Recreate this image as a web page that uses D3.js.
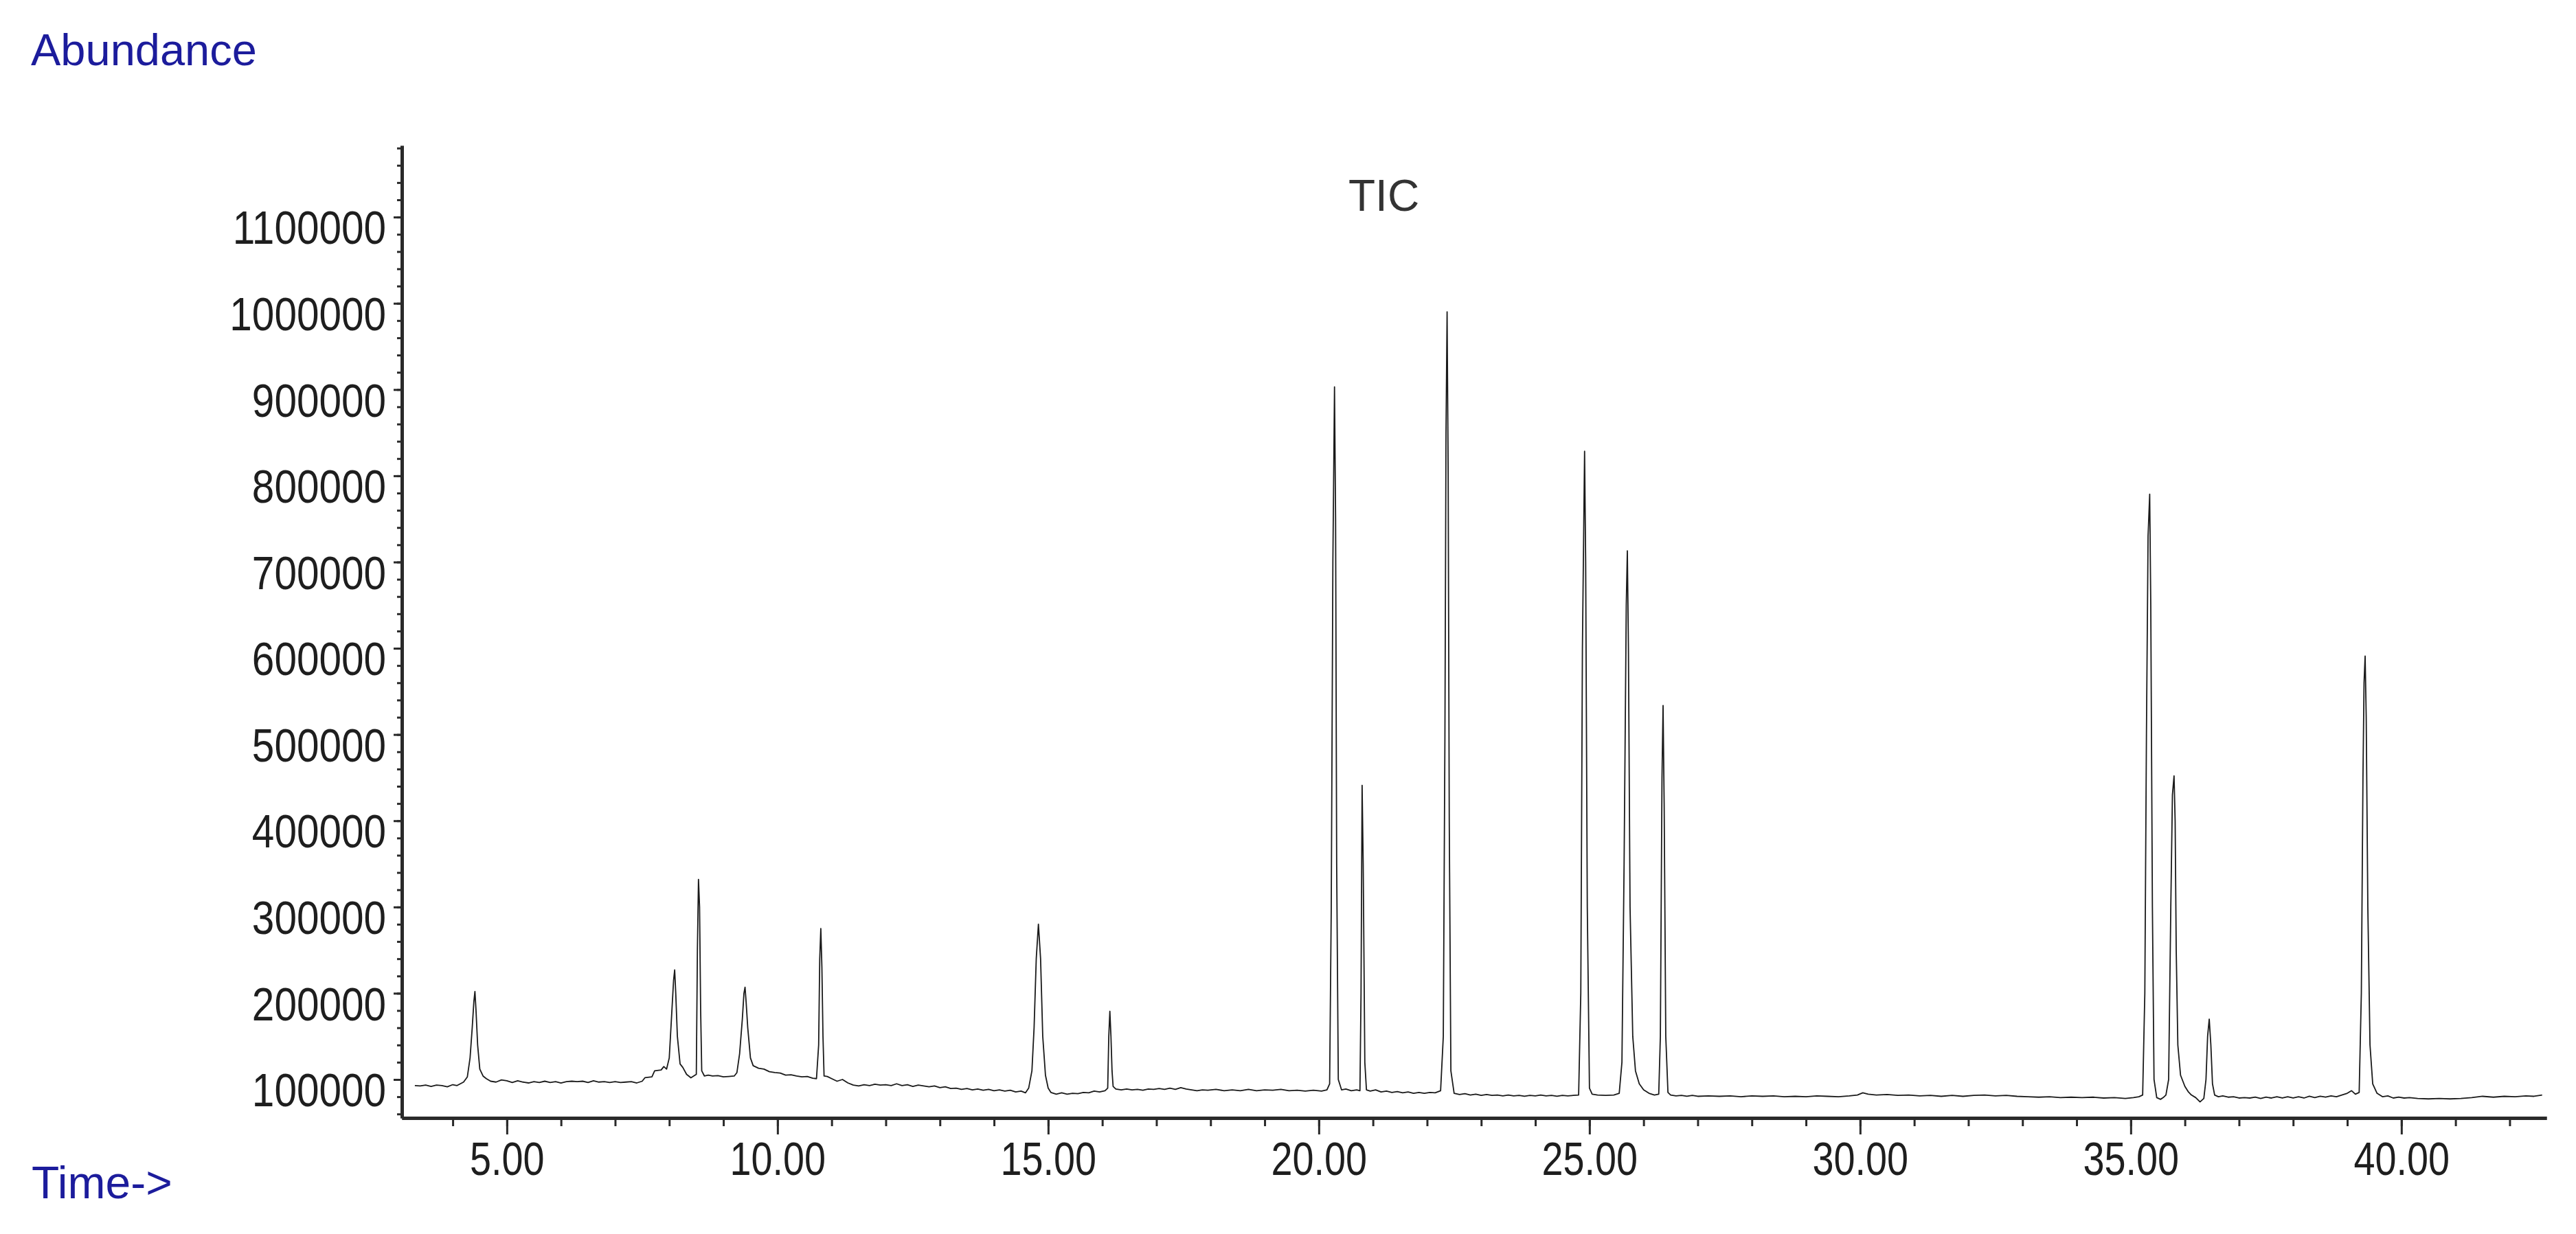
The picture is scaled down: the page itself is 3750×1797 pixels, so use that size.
<!DOCTYPE html>
<html>
<head>
  <meta charset="utf-8">
  <title>TIC chromatogram</title>
  <script src="https://cdn.jsdelivr.net/npm/d3@7/dist/d3.min.js"></script>
  <style>
    body { margin: 0; background: #fff; }
    .axis .tick text { font-family: "Liberation Sans", Arial, sans-serif; font-size: 68px; fill: #1e1e1e; }
    .axis path.domain { stroke: #2a2a2a; stroke-width: 5px; }
    .axis .tick line { stroke: #2a2a2a; stroke-width: 3px; }
  </style>
</head>
<body>
  <div id="chart"></div>
<script>
  // tick values
  const yMajorTicks = [100000, 200000, 300000, 400000, 500000, 600000, 700000, 800000, 900000, 1000000, 1100000];
  const xMajorTicks = [5, 10, 15, 20, 25, 30, 35, 40];

  // TIC trace, [time (min), abundance]
  const trace03to11 = [
    [3.3, 93000], [3.4, 92500], [3.5, 93500], [3.6, 92000], [3.7, 93500], [3.8, 93000], [3.9, 91500],
    [4.0, 94000], [4.08, 93000], [4.14, 95000], [4.2, 97000], [4.27, 103000],
    [4.32, 125000], [4.36, 160000], [4.39, 190000], [4.41, 202000], [4.43, 180000], [4.46, 140000],
    [4.5, 112000], [4.56, 104000], [4.62, 101000], [4.7, 98000], [4.8, 97000], [4.9, 99500],
    [5.0, 98500], [5.1, 96500], [5.2, 98500], [5.3, 97000], [5.4, 96000], [5.5, 97500], [5.6, 96500],
    [5.7, 98000], [5.8, 96500], [5.9, 97500], [6.0, 96000], [6.1, 97500], [6.2, 98000], [6.3, 97500],
    [6.4, 98000], [6.5, 96500], [6.6, 98500], [6.7, 97000], [6.8, 97500], [6.9, 96500], [7.0, 97500],
    [7.1, 96500], [7.2, 97000], [7.3, 97500], [7.4, 96000], [7.5, 98000], [7.55, 102000], [7.68, 103000],
    [7.73, 110000], [7.85, 111000], [7.9, 115000], [7.95, 112000], [8.0, 125000],
    [8.04, 170000], [8.08, 215000], [8.1, 227000], [8.12, 200000], [8.15, 150000], [8.2, 118000],
    [8.25, 114000], [8.32, 106000], [8.4, 102000], [8.45, 104000], [8.5, 106000],
    [8.52, 250000], [8.54, 332000], [8.56, 300000], [8.58, 180000], [8.6, 110000], [8.65, 104000],
    [8.72, 105000], [8.8, 104000], [8.9, 104500], [9.0, 103000], [9.1, 103500], [9.2, 104000], [9.25, 108000],
    [9.3, 130000], [9.35, 170000], [9.38, 200000], [9.4, 207000], [9.42, 190000], [9.45, 160000],
    [9.5, 125000], [9.55, 116000], [9.65, 113000], [9.75, 112000], [9.85, 109000], [9.95, 108000],
    [10.05, 107500], [10.15, 105000], [10.25, 105500], [10.35, 104000], [10.45, 103000], [10.55, 103500],
    [10.65, 101500], [10.72, 101000], [10.76, 140000], [10.78, 240000], [10.8, 275000], [10.82, 230000],
    [10.84, 150000], [10.86, 104000], [10.92, 103500], [11.0, 101000]
  ];
  const trace11to20 = [
    [11.1, 98000], [11.2, 100000], [11.3, 96000], [11.4, 93500], [11.5, 92500], [11.6, 94000],
    [11.7, 93000], [11.8, 94500], [11.9, 93500], [12.0, 94000], [12.1, 93000], [12.2, 95000], [12.3, 93000],
    [12.4, 94000], [12.5, 92000], [12.6, 93500], [12.7, 92500], [12.8, 91500], [12.9, 92500], [13.0, 90500],
    [13.1, 91500], [13.2, 89500], [13.3, 90000], [13.4, 88500], [13.5, 89500], [13.6, 88000], [13.7, 89000],
    [13.8, 87500], [13.9, 88500], [14.0, 87000], [14.1, 88000], [14.2, 86500], [14.3, 87500], [14.4, 85500],
    [14.5, 86500], [14.58, 84500], [14.64, 90000], [14.7, 110000], [14.74, 160000], [14.78, 240000],
    [14.82, 280000], [14.86, 240000], [14.9, 150000], [14.95, 105000], [15.0, 90000], [15.05, 85000],
    [15.15, 83000], [15.25, 84500], [15.35, 83000], [15.45, 84000], [15.55, 83500], [15.65, 85000],
    [15.75, 84500], [15.85, 86500], [15.95, 85500], [16.05, 87000], [16.1, 90000], [16.12, 150000],
    [16.14, 179000], [16.16, 150000], [16.18, 110000], [16.2, 92000], [16.25, 89000], [16.35, 88000],
    [16.45, 89000], [16.55, 88000], [16.65, 88500], [16.75, 87500], [16.85, 89000], [16.95, 88500],
    [17.05, 89500], [17.15, 88500], [17.25, 90000], [17.35, 88500], [17.45, 90500], [17.55, 89000],
    [17.65, 88000], [17.75, 87000], [17.85, 88000], [17.95, 87500], [18.1, 88500], [18.25, 87000],
    [18.4, 88000], [18.55, 87000], [18.7, 88500], [18.85, 87000], [19.0, 88000], [19.15, 87500],
    [19.3, 88500], [19.45, 87000], [19.6, 87500], [19.75, 86500], [19.9, 87500], [20.05, 86500], [20.15, 88000]
  ];
  const trace20to27 = [
    [20.2, 95000], [20.23, 300000], [20.26, 700000], [20.29, 903000], [20.31, 750000], [20.33, 350000],
    [20.36, 100000], [20.42, 88000], [20.5, 89000], [20.6, 87000], [20.7, 88000], [20.76, 87000],
    [20.78, 200000], [20.8, 441000], [20.82, 350000], [20.85, 120000], [20.88, 88000], [20.95, 86500],
    [21.05, 88000], [21.15, 85500], [21.25, 86500], [21.35, 85000], [21.45, 86000], [21.55, 84500],
    [21.65, 85500], [21.75, 84000], [21.85, 85000], [21.95, 84000], [22.05, 85000], [22.15, 84500],
    [22.25, 87000], [22.3, 150000], [22.33, 500000], [22.35, 850000], [22.37, 990000], [22.39, 800000],
    [22.41, 400000], [22.44, 110000], [22.5, 84000], [22.6, 82500], [22.7, 83500], [22.8, 82000],
    [22.9, 83000], [23.0, 81500], [23.1, 82500], [23.2, 81500], [23.3, 82000], [23.4, 81000], [23.5, 82000],
    [23.6, 81000], [23.7, 81500], [23.8, 80500], [23.9, 81500], [24.0, 81000], [24.1, 82000], [24.2, 81000],
    [24.3, 81500], [24.4, 80500], [24.5, 81500], [24.6, 81000], [24.7, 81500], [24.8, 82000],
    [24.84, 200000], [24.87, 600000], [24.91, 828500], [24.93, 700000], [24.96, 300000], [25.0, 90000],
    [25.05, 83000], [25.15, 82000], [25.3, 81500], [25.45, 82000], [25.55, 84000], [25.6, 120000],
    [25.64, 350000], [25.68, 650000], [25.7, 713000], [25.72, 600000], [25.75, 300000], [25.8, 150000],
    [25.85, 110000], [25.92, 95000], [26.0, 88000], [26.1, 84000], [26.2, 82000], [26.28, 83000],
    [26.31, 150000], [26.34, 450000], [26.36, 533700], [26.38, 420000], [26.41, 150000], [26.45, 85000],
    [26.5, 82000], [26.6, 81000], [26.7, 81500], [26.8, 80500], [26.9, 81500], [27.0, 80500]
  ];
  const trace27to43 = [
    [27.2, 81000], [27.4, 80500], [27.6, 81000], [27.8, 80000], [28.0, 81000], [28.2, 80500], [28.4, 81000],
    [28.6, 80000], [28.8, 80500], [29.0, 80000], [29.2, 81000], [29.4, 80500], [29.6, 80000], [29.8, 81000],
    [29.95, 82000], [30.05, 84500], [30.15, 83000], [30.3, 82000], [30.5, 82500], [30.7, 81500], [30.9, 82000],
    [31.1, 81000], [31.3, 81500], [31.5, 80500], [31.7, 81500], [31.9, 80500], [32.1, 81500], [32.3, 82000],
    [32.5, 81000], [32.7, 81500], [32.9, 80500], [33.1, 80000], [33.3, 79500], [33.5, 80000], [33.7, 79000],
    [33.9, 79500], [34.1, 79000], [34.3, 79500], [34.5, 78500], [34.7, 79000], [34.9, 78000], [35.05, 79000],
    [35.15, 80000], [35.22, 82000], [35.26, 200000], [35.29, 500000], [35.32, 730000], [35.35, 778600],
    [35.37, 650000], [35.4, 300000], [35.43, 100000], [35.48, 79000], [35.55, 77000], [35.6, 79000],
    [35.65, 82000], [35.7, 100000], [35.74, 300000], [35.77, 430000], [35.8, 452000], [35.82, 400000],
    [35.84, 250000], [35.87, 140000], [35.92, 105000], [36.0, 92000], [36.06, 86000], [36.12, 82000],
    [36.2, 79000], [36.28, 74000], [36.35, 78000], [36.39, 100000], [36.42, 150000], [36.45, 170000],
    [36.48, 140000], [36.51, 95000], [36.55, 82000], [36.62, 80000], [36.7, 81000], [36.8, 79500],
    [36.9, 80000], [37.0, 78500], [37.1, 79000], [37.2, 78500], [37.3, 79500], [37.4, 78000], [37.5, 79500],
    [37.6, 78500], [37.7, 80000], [37.8, 78500], [37.9, 80000], [38.0, 78500], [38.1, 80000], [38.2, 78500],
    [38.3, 80500], [38.4, 79000], [38.5, 80500], [38.6, 79500], [38.7, 81000], [38.8, 80000], [38.9, 82000],
    [39.0, 84000], [39.08, 87000], [39.15, 83000], [39.22, 85000], [39.26, 200000], [39.29, 450000],
    [39.31, 560000], [39.33, 591000], [39.35, 520000], [39.38, 300000], [39.42, 140000], [39.47, 95000],
    [39.55, 84000], [39.65, 80000], [39.75, 81000], [39.85, 78500], [39.95, 79500], [40.05, 78500],
    [40.15, 79000], [40.3, 78000], [40.5, 77500], [40.7, 78000], [40.9, 77500], [41.1, 78000], [41.3, 79000],
    [41.5, 80500], [41.7, 79500], [41.9, 80500], [42.1, 80000], [42.3, 81000], [42.45, 80500], [42.6, 82000]
  ];
  const trace = trace03to11.concat(trace11to20, trace20to27, trace27to43);

  // set the dimensions and margins of the graph
  const margin = {top: 212, right: 43, bottom: 169, left: 585},
        width = 3750 - margin.left - margin.right,
        height = 1797 - margin.top - margin.bottom;

  const root = d3.select("#chart")
    .append("svg")
      .attr("width", 3750)
      .attr("height", 1797);

  let svg = root.append("g")
      .attr("transform", "translate(" + margin.left + "," + margin.top + ")");

  // scales
  let x = d3.scaleLinear()
    .domain([3.06, 42.68])
    .range([0, width]);
  let y = d3.scaleLinear()
    .domain([55400, 1182900])
    .range([height, 0]);

  // squeeze tick labels horizontally, the original font is a narrow one
  function narrow(sel, k) {
    sel.each(function () {
      const w = this.getComputedTextLength();
      d3.select(this)
        .attr("textLength", w * k)
        .attr("lengthAdjust", "spacingAndGlyphs");
    });
  }

  // minor ticks first, then major ticks with labels on top
  const xMinor = d3.range(4, 43, 1);
  const yMinor = d3.range(60000, 1182900, 20000);

  svg.append("g")
    .attr("class", "axis")
    .attr("transform", "translate(0," + height + ")")
    .call(d3.axisBottom(x).tickValues(xMinor).tickSize(12).tickSizeOuter(0).tickFormat(""));
  svg.append("g")
    .attr("class", "axis")
    .call(d3.axisLeft(y).tickValues(yMinor).tickSize(7).tickSizeOuter(0).tickFormat(""));

  svg.append("g")
    .attr("class", "axis")
    .attr("transform", "translate(0," + height + ")")
    .call(d3.axisBottom(x).tickValues(xMajorTicks).tickSize(24).tickPadding(11)
      .tickSizeOuter(0).tickFormat(d3.format(".2f")))
    .selectAll("text")
      .call(narrow, 0.82);
  svg.append("g")
    .attr("class", "axis")
    .call(d3.axisLeft(y).tickValues(yMajorTicks).tickSize(12).tickPadding(11)
      .tickSizeOuter(0).tickFormat(d3.format("d")))
    .selectAll("text")
      .attr("dy", "0.57em")
      .call(narrow, 0.86);

  // the trace
  svg.append("clipPath")
      .attr("id", "plotclip")
    .append("rect")
      .attr("width", width)
      .attr("height", height);

  svg.append("path")
    .datum(trace)
    .attr("clip-path", "url(#plotclip)")
    .attr("fill", "none")
    .attr("stroke", "#1a1a1a")
    .attr("stroke-width", 1.8)
    .attr("stroke-linejoin", "round")
    .attr("d", d3.line()
      .x((d) => { return x(d[0]) })
      .y((d) => { return y(d[1]) }));

  // labels
  root.append("text")
    .attr("x", 45)
    .attr("y", 95)
    .attr("font-family", "Liberation Sans, Arial, sans-serif")
    .attr("font-size", 65)
    .attr("fill", "#1c1c9c")
    .text("Abundance");

  root.append("text")
    .attr("x", 46)
    .attr("y", 1745)
    .attr("font-family", "Liberation Sans, Arial, sans-serif")
    .attr("font-size", 66)
    .attr("fill", "#1c1c9c")
    .text("Time->");

  root.append("text")
    .attr("x", 1963)
    .attr("y", 307)
    .attr("font-family", "Liberation Sans, Arial, sans-serif")
    .attr("font-size", 64)
    .attr("fill", "#333")
    .text("TIC");
</script>
</body>
</html>
